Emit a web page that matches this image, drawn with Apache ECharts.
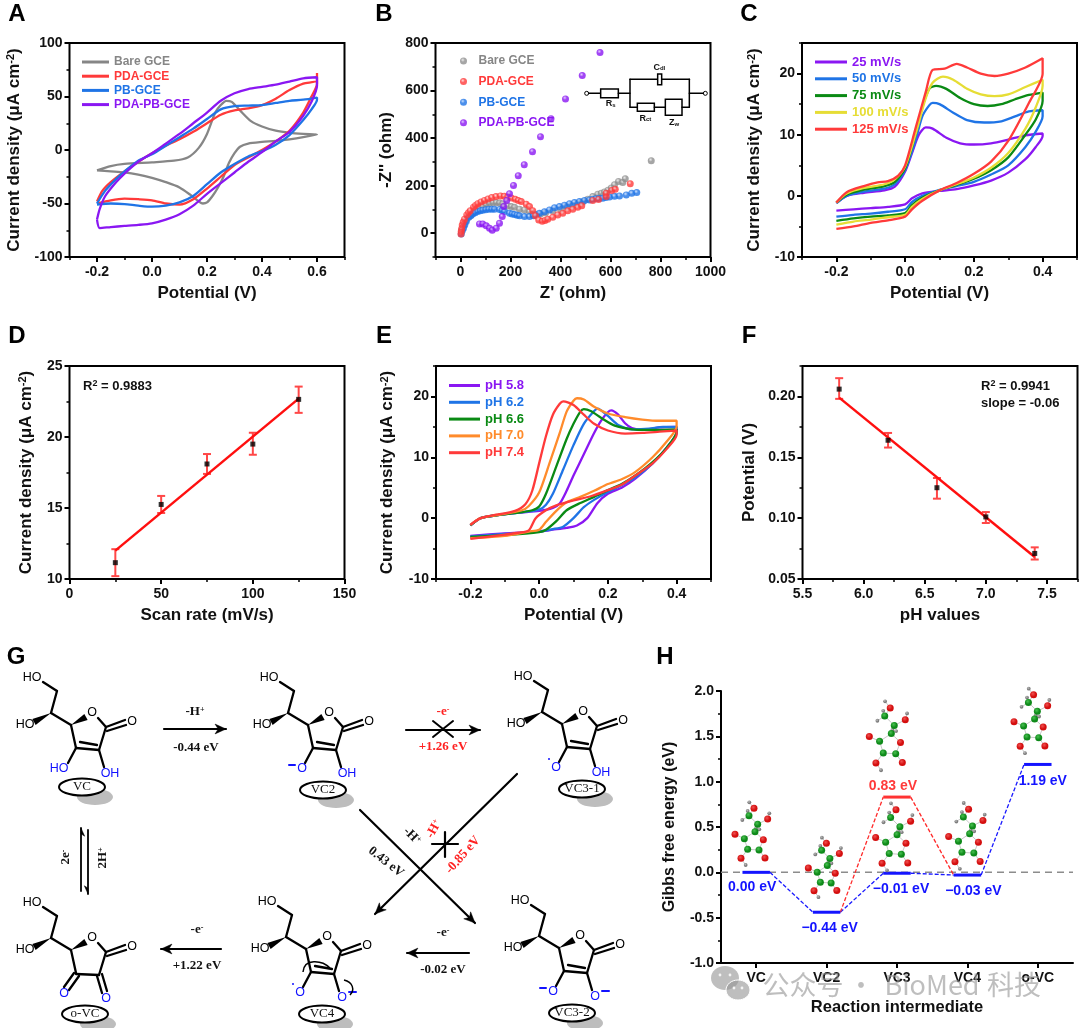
<!DOCTYPE html>
<html><head><meta charset="utf-8">
<style>html,body{margin:0;padding:0;background:#fff}#c{width:1080px;height:1028px}</style>
<script src="https://cdn.jsdelivr.net/npm/echarts@6/dist/echarts.min.js"></script>
</head><body><div id="c"></div>
<script>
// ---------- DATA ----------
const aNames=['Bare GCE','PDA-GCE','PB-GCE','PDA-PB-GCE'];
const aBare=[[-0.2,-19],[-0.15,-15],[-0.1,-13],[0,-11.5],[0.08,-10],[0.13,-7],[0.17,2],[0.2,15],[0.23,35],[0.25,42],[0.27,46],[0.29,45],[0.32,37],[0.36,27],[0.4,22],[0.45,18],[0.5,16],[0.55,15],[0.6,14.5],[0.6,14],[0.55,12],[0.5,10],[0.45,8.5],[0.4,7.5],[0.35,6],[0.32,3],[0.3,-3],[0.28,-12],[0.26,-25],[0.24,-35],[0.22,-43],[0.2,-49],[0.185,-50],[0.17,-48],[0.14,-42],[0.1,-35],[0.05,-30],[0,-26],[-0.05,-23],[-0.1,-21],[-0.15,-20],[-0.2,-19]];
const aPda=[[-0.2,-48],[-0.18,-38],[-0.15,-30],[-0.1,-20],[-0.05,-11],[0,-3],[0.05,4],[0.1,10],[0.15,17],[0.2,25],[0.25,33],[0.3,37],[0.35,39],[0.4,42],[0.45,48],[0.5,56],[0.55,62],[0.6,65],[0.6,72],[0.6,62],[0.58,50],[0.55,35],[0.5,18],[0.45,8],[0.4,0],[0.35,-7],[0.3,-14],[0.25,-25],[0.2,-36],[0.15,-46],[0.1,-51],[0.05,-50],[0,-47],[-0.05,-46],[-0.1,-45.5],[-0.15,-47],[-0.2,-50]];
const aPb=[[-0.2,-50],[-0.17,-38],[-0.13,-27],[-0.1,-20],[-0.05,-10],[0,-4],[0.05,4],[0.1,12],[0.15,20],[0.2,29],[0.25,38],[0.3,41],[0.35,41.5],[0.4,42],[0.45,44],[0.5,46],[0.55,47],[0.6,49],[0.6,47],[0.58,38],[0.55,28],[0.5,14],[0.45,5],[0.4,-1],[0.35,-6],[0.3,-13],[0.25,-21],[0.2,-32],[0.15,-43],[0.1,-49],[0.05,-52],[0,-53],[-0.05,-52],[-0.1,-50.5],[-0.15,-50],[-0.2,-51]];
const aPdaPb=[[-0.2,-65],[-0.19,-55],[-0.17,-43],[-0.13,-30],[-0.1,-22],[-0.05,-11],[0,-3],[0.05,6],[0.1,15],[0.15,25],[0.2,35],[0.25,46],[0.3,53],[0.35,57],[0.4,59],[0.45,61],[0.5,64],[0.55,67],[0.6,68],[0.6,60],[0.58,45],[0.55,32],[0.5,17],[0.45,8],[0.4,-2],[0.35,-11],[0.3,-21],[0.25,-31],[0.2,-41],[0.15,-52],[0.1,-60],[0.05,-65],[0,-68.5],[-0.05,-70],[-0.1,-71],[-0.15,-72],[-0.19,-73],[-0.2,-65]];

const bBare=[[5,15],[14,38],[23,56],[33,68],[43,77],[53,88],[63,98],[76,106],[89,112],[102,120],[116,126],[130,128],[143,129],[156,127],[169,124],[189,115],[203,112],[216,109],[236,101],[256,98],[276,91],[289,77],[300,78],[320,81],[340,85],[370,93],[400,100],[425,110],[450,118],[470,125],[490,132],[509,143],[529,154],[549,164],[563,168],[576,173],[590,181],[603,190],[616,204],[632,218],[649,213],[659,229],[763,305]];
const bPda=[[2,-3],[3,8],[5,20],[7,35],[11,47],[16,59],[25,77],[32,86],[39,94],[52,109],[60,117],[69,124],[82,131],[96,138],[110,144],[125,150],[142,154],[160,157],[175,155],[189,152],[204,148],[219,143],[231,138],[243,133],[263,122],[276,112],[289,95],[300,73],[313,56],[327,50],[338,54],[349,59],[369,67],[389,77],[409,84],[429,94],[449,101],[469,109],[485,116],[529,138],[552,142],[583,154],[583,168],[605,180],[619,185],[679,208]];
const bPb=[[3,-3],[7,10],[12,21],[17,35],[23,49],[33,67],[41,74],[49,81],[59,86],[69,91],[79,94],[89,97],[101,99],[113,101],[125,101],[136,101],[156,100],[166,96],[176,91],[196,84],[206,81],[216,79],[226,76],[236,73],[256,70],[276,70],[292,73],[304,78],[316,84],[336,90],[356,98],[376,107],[396,112],[416,118],[436,124],[456,129],[476,133],[496,138],[516,140],[529,143],[542,145],[555,146],[569,147],[582,150],[596,152],[616,155],[636,157],[663,161],[685,168],[705,171]];
const bPdaPb=[[76,39],[89,39],[103,31],[116,21],[127,13],[143,21],[156,42],[167,70],[173,112],[185,138],[196,166],[212,201],[231,242],[255,288],[288,343],[320,406],[362,481],[420,565],[487,663],[558,760]];

const cNames=['25 mV/s','50 mV/s','75 mV/s','100 mV/s','125 mV/s'];
const c25=[[-0.2,-1.2],[-0.17,0],[-0.12,0.5],[-0.06,0.9],[-0.03,1.5],[0,4],[0.02,7],[0.04,10],[0.06,11.2],[0.08,11],[0.12,9.5],[0.16,8.6],[0.2,8.4],[0.25,8.6],[0.3,9.2],[0.35,9.9],[0.4,10.2],[0.4,9.8],[0.38,8],[0.35,6],[0.3,3.8],[0.25,2.5],[0.2,1.7],[0.15,1.1],[0.1,0.8],[0.05,0.4],[0.02,-0.4],[0,-1.4],[-0.05,-1.8],[-0.1,-2],[-0.15,-2.2],[-0.2,-2.4]];
const c50=[[-0.2,-1.2],[-0.17,0],[-0.12,0.7],[-0.06,1.2],[-0.03,1.9],[0,4.2],[0.03,9],[0.05,13],[0.07,14.8],[0.08,15.2],[0.1,15],[0.14,13.6],[0.18,12.4],[0.23,12],[0.28,12.2],[0.32,13],[0.36,13.8],[0.4,14],[0.4,13],[0.38,10.5],[0.35,8],[0.3,5],[0.25,3.5],[0.2,2.3],[0.15,1.6],[0.1,1],[0.05,0],[0.02,-1],[0,-2.2],[-0.05,-2.6],[-0.1,-2.9],[-0.15,-3.1],[-0.2,-3.4]];
const c75=[[-0.2,-1.1],[-0.17,0.2],[-0.12,1],[-0.06,1.6],[-0.03,2.3],[0,4.5],[0.03,10],[0.05,14.5],[0.07,17.5],[0.09,18],[0.12,17.5],[0.16,16],[0.2,15],[0.24,14.7],[0.28,15],[0.32,15.8],[0.36,16.5],[0.4,16.9],[0.4,15.5],[0.38,12.5],[0.35,10],[0.3,6.3],[0.25,4.2],[0.2,2.8],[0.15,1.8],[0.1,0.9],[0.05,-0.3],[0.02,-1.5],[0,-2.8],[-0.05,-3.2],[-0.1,-3.4],[-0.15,-3.7],[-0.2,-4.1]];
const c100=[[-0.2,-1.1],[-0.17,0.4],[-0.12,1.3],[-0.06,1.9],[-0.03,2.7],[0,4.8],[0.03,10],[0.06,16],[0.08,18.5],[0.11,19.5],[0.14,19],[0.18,17.5],[0.22,16.6],[0.26,16.3],[0.3,16.6],[0.35,17.8],[0.4,19],[0.4,18],[0.38,14.5],[0.35,11],[0.3,7],[0.25,4.6],[0.2,3],[0.15,1.9],[0.1,0.9],[0.05,-0.5],[0.02,-1.8],[0,-3.1],[-0.05,-3.5],[-0.1,-3.9],[-0.15,-4.2],[-0.2,-4.7]];
const c125=[[-0.2,-1.1],[-0.17,0.6],[-0.12,1.6],[-0.08,2.2],[-0.05,2.4],[-0.02,3.3],[0,5],[0.03,11],[0.06,17],[0.08,20.6],[0.115,20.8],[0.15,21.6],[0.18,21],[0.22,20],[0.26,19.6],[0.3,20],[0.35,21],[0.4,22.5],[0.4,20],[0.36,15.2],[0.3,9],[0.25,5.6],[0.2,3.6],[0.15,2.1],[0.1,0.9],[0.05,-0.8],[0.02,-2.2],[0,-3.4],[-0.05,-4],[-0.1,-4.4],[-0.15,-5],[-0.2,-5.4]];

const dRates=[25,50,75,100,125];
const dMeans=[11.15,15.25,18.1,19.5,22.65];
const dLow=[10.2,14.65,17.4,18.75,21.7];
const dHigh=[12.1,15.85,18.8,20.3,23.55];
const dFit=[[25,12],[125,22.7]];

const eNames=['pH 5.8','pH 6.2','pH 6.6','pH 7.0','pH 7.4'];
const e58=[[-0.2,-1.2],[-0.17,0],[-0.12,0.5],[-0.06,0.9],[0,1.2],[0.04,1.7],[0.06,2.4],[0.08,4.5],[0.1,7],[0.13,10.5],[0.16,14],[0.18,16],[0.2,17.4],[0.21,17.7],[0.23,17],[0.25,15.6],[0.27,14.8],[0.3,14.5],[0.35,14.9],[0.4,15],[0.4,14],[0.37,11.5],[0.33,9],[0.28,6.5],[0.24,5],[0.2,4],[0.17,2.5],[0.14,0],[0.11,-1.2],[0.08,-1.6],[0.04,-1.9],[0,-2.2],[-0.1,-2.5],[-0.2,-2.9]];
const e62=[[-0.2,-1.2],[-0.17,0],[-0.12,0.5],[-0.06,0.9],[0,1.4],[0.02,2.2],[0.04,4],[0.07,8],[0.1,12],[0.13,15.5],[0.16,17.6],[0.17,18],[0.2,16.8],[0.23,15.3],[0.27,14.6],[0.32,14.7],[0.36,15],[0.4,15],[0.4,14.2],[0.37,11.5],[0.33,9],[0.28,6.7],[0.24,5.4],[0.2,4.3],[0.16,3],[0.13,1.8],[0.1,0],[0.07,-1.4],[0.04,-1.8],[0,-2.2],[-0.1,-2.6],[-0.2,-3]];
const e66=[[-0.2,-1.2],[-0.17,0],[-0.12,0.5],[-0.06,0.9],[-0.02,1.3],[0,1.9],[0.02,4],[0.05,8.5],[0.08,13],[0.1,15.5],[0.12,17.5],[0.13,17.9],[0.15,17.6],[0.18,16.5],[0.22,15.2],[0.27,14.6],[0.32,14.5],[0.4,14.6],[0.4,14.2],[0.37,11.5],[0.33,9.2],[0.28,7],[0.24,5.6],[0.2,4.6],[0.16,3.5],[0.12,2.5],[0.08,1.3],[0.05,-0.5],[0.02,-1.9],[0,-2.3],[-0.1,-2.8],[-0.2,-3.1]];
const e70=[[-0.2,-1.1],[-0.17,0],[-0.12,0.5],[-0.05,1.3],[-0.03,2],[0,4.2],[0.03,9],[0.06,14],[0.08,17.5],[0.1,19.3],[0.11,19.7],[0.13,19.5],[0.16,18.3],[0.2,17.2],[0.25,16.6],[0.3,16.2],[0.35,16],[0.4,16],[0.4,15],[0.37,12.5],[0.33,10],[0.28,7.6],[0.24,6.4],[0.2,5.6],[0.16,4.5],[0.12,3.5],[0.08,2.6],[0.05,1.2],[0.02,-0.6],[0,-1.9],[-0.03,-2.2],[-0.1,-2.9],[-0.2,-3.3]];
const e74=[[-0.2,-1.1],[-0.17,0],[-0.12,0.6],[-0.07,1.2],[-0.04,2.3],[-0.02,4.5],[0,9],[0.02,13.5],[0.04,17],[0.06,18.8],[0.07,19.2],[0.1,18.6],[0.13,17],[0.16,15.5],[0.2,14.4],[0.25,13.9],[0.3,14],[0.35,14.2],[0.4,14.4],[0.4,13.7],[0.37,11.3],[0.33,9],[0.28,7],[0.24,5.5],[0.2,4.6],[0.15,3.6],[0.1,2.9],[0.05,2.1],[0.02,1.3],[-0.01,0],[-0.03,-2],[-0.06,-2.4],[-0.1,-2.7],[-0.2,-3.4]];

const fPh=[5.8,6.2,6.6,7.0,7.4];
const fMeans=[0.206,0.164,0.125,0.101,0.071];
const fLow=[0.198,0.158,0.116,0.096,0.066];
const fHigh=[0.215,0.170,0.133,0.105,0.076];
const fFit=[[5.8,0.199],[7.4,0.068]];

const hCats=['VC','VC2','VC3','VC4','o-VC'];
const hBlue=[0,-0.44,-0.01,-0.03,1.19];
const hBlueText=['0.00 eV','\u22120.44 eV','\u22120.01 eV','\u22120.03 eV','1.19 eV'];
const hRed=0.83;
const hRedText='0.83 eV';

// tick sets
const t_A_x=[-0.2,0,0.2,0.4,0.6], t_A_xm=[-0.3,-0.1,0.1,0.3,0.5,0.7];
const t_A_y=[-100,-50,0,50,100], t_A_ym=[-75,-25,25,75];
const t_B_x=[0,200,400,600,800,1000], t_B_xm=[-100,100,300,500,700,900];
const t_B_y=[0,200,400,600,800], t_B_ym=[-100,100,300,500,700];
const t_C_x=[-0.2,0,0.2,0.4], t_C_xm=[-0.3,-0.1,0.1,0.3,0.5];
const t_C_y=[-10,0,10,20], t_C_ym=[-5,5,15,25];
const t_D_x=[0,50,100,150], t_D_xm=[25,75,125];
const t_D_y=[10,15,20,25], t_D_ym=[12.5,17.5,22.5];
const t_F_x=[5.5,6,6.5,7,7.5], t_F_xm=[5.75,6.25,6.75,7.25,7.75];
const t_F_y=[0.05,0.1,0.15,0.2], t_F_ym=[0.075,0.125,0.175,0.225];
const t_H_y=[-1,-0.5,0,0.5,1,1.5,2], t_H_ym=[-0.75,-0.25,0.25,0.75,1.25,1.75];

// ---------- STYLE ----------
const FONT='"Liberation Sans"', SERIF='"Liberation Serif"';
const GREY='#868686',RED='#ff3a3a',BLUE='#1f74e6',PUR='#8a17f2',GRN='#0a8a14',YEL='#e6dd35',ORG='#ff8b2b';
const grids=[],xAxes=[],yAxes=[],series=[],legends=[];
const curLabel='Current density (\u03bcA cm{s|-2})';
function axis(gi,c,isX){
  const main={type:'value',gridIndex:gi,min:c.min,max:c.max,position:isX?'bottom':'left',name:c.name,nameLocation:'middle',nameGap:c.gap,nameMoveOverlap:false,
    nameTextStyle:{fontFamily:FONT,fontWeight:'bold',fontSize:c.ns||17,color:'#111',rich:{s:{fontFamily:FONT,fontWeight:'bold',fontSize:11,color:'#111',verticalAlign:'top'}}},
    axisLine:{show:!!c.line,onZero:false,lineStyle:{color:'#000',width:2}},
    axisTick:{show:true,customValues:c.major,length:5,lineStyle:{color:'#000',width:2}},
    axisLabel:{customValues:c.major,margin:isX?8:7,color:'#111',fontFamily:FONT,fontWeight:'bold',fontSize:14,formatter:v=>(+v).toFixed(c.dec||0),hideOverlap:false},
    splitLine:{show:false}};
  const minor={type:'value',gridIndex:gi,min:c.min,max:c.max,position:isX?'bottom':'left',axisLine:{show:false,onZero:false},axisLabel:{show:false},
    axisTick:{show:true,customValues:c.minor,length:3,lineStyle:{color:'#000',width:1.5}},splitLine:{show:false}};
  return [main,minor];
}
function panel(rect,x,y){
  const gi=grids.length;
  grids.push({left:rect[0],top:rect[1],width:rect[2],height:rect[3],show:true,borderColor:'#000',borderWidth:2,backgroundColor:'transparent'});
  const xi=xAxes.length,yi=yAxes.length;
  xAxes.push(...axis(gi,x,true)); yAxes.push(...axis(gi,y,false));
  return {xi,yi};
}
function cv(p,name,data,color,w){
  series.push({type:'line',name,data,xAxisIndex:p.xi,yAxisIndex:p.yi,showSymbol:false,symbol:'none',smooth:0.25,color,lineStyle:{color,width:w||2.3},z:3,animation:false});
}
function ball(c,l){return {type:'radial',x:0.4,y:0.35,r:0.65,colorStops:[{offset:0,color:l},{offset:0.45,color:c},{offset:1,color:c}]};}
function strip(n){return n.split('|')[1];}
function lineLegend(panelKey,names,colors,left,top,gap,fs,w){
  legends.push({left,top,padding:0,orient:'vertical',itemWidth:w,itemHeight:3,itemGap:gap,icon:'rect',selectedMode:false,formatter:strip,
    textStyle:{fontFamily:FONT,fontWeight:'bold',fontSize:fs},
    data:names.map((n,i)=>({name:panelKey+'|'+n,textStyle:{color:colors[i],fontFamily:FONT,fontWeight:'bold',fontSize:fs}}))});
}
function errorBars(p,xs,lo,hi){
  series.push({type:'custom',xAxisIndex:p.xi,yAxisIndex:p.yi,z:3,animation:false,silent:true,clip:false,
    data:xs.map((x,i)=>[x,lo[i],hi[i]]),
    renderItem(params,api){
      const a=api.coord([api.value(0),api.value(1)]),b=api.coord([api.value(0),api.value(2)]);
      const st={stroke:'#ff4747',lineWidth:2,fill:null};
      return {type:'group',children:[
        {type:'line',shape:{x1:a[0],y1:a[1],x2:b[0],y2:b[1]},style:st},
        {type:'line',shape:{x1:a[0]-4,y1:a[1],x2:a[0]+4,y2:a[1]},style:st},
        {type:'line',shape:{x1:b[0]-4,y1:b[1],x2:b[0]+4,y2:b[1]},style:st}]};
    }});
}
function fitAndPoints(p,fit,xs,ys){
  series.push({type:'line',data:fit,xAxisIndex:p.xi,yAxisIndex:p.yi,showSymbol:false,symbol:'none',color:'#ff0f0f',lineStyle:{color:'#ff0f0f',width:2.5},z:4,animation:false});
  series.push({type:'scatter',data:xs.map((x,i)=>[x,ys[i]]),xAxisIndex:p.xi,yAxisIndex:p.yi,symbol:'rect',symbolSize:5,color:'#000',itemStyle:{color:'#000'},z:5,animation:false});
}

// ---------- PANELS ----------
const pA=panel([69.5,43,275,214],{min:-0.3,max:0.7,major:t_A_x,minor:t_A_xm,dec:1,name:'Potential (V)',gap:28},{min:-100,max:100,major:t_A_y,minor:t_A_ym,name:curLabel,gap:47});
const pB=panel([435.5,43,275,214],{min:-100,max:1000,major:t_B_x,minor:t_B_xm,name:"Z' (ohm)",gap:28},{min:-100,max:800,major:t_B_y,minor:t_B_ym,name:"-Z'' (ohm)",gap:41});
const pC=panel([802,43,275,214],{min:-0.3,max:0.5,major:t_C_x,minor:t_C_xm,dec:1,name:'Potential (V)',gap:28},{min:-10,max:25,major:t_C_y,minor:t_C_ym,name:curLabel,gap:39});
const pD=panel([69.5,366,275,213],{min:0,max:150,major:t_D_x,minor:t_D_xm,name:'Scan rate (mV/s)',gap:28},{min:10,max:25,major:t_D_y,minor:t_D_ym,name:curLabel,gap:35});
const pE=panel([436,366,275,213],{min:-0.3,max:0.5,major:t_C_x,minor:t_C_xm,dec:1,name:'Potential (V)',gap:28},{min:-10,max:25,major:t_C_y,minor:t_C_ym,name:curLabel,gap:40});
const pF=panel([802.5,366,275,213],{min:5.5,max:7.75,major:t_F_x,minor:t_F_xm,dec:1,name:'pH values',gap:28},{min:0.05,max:0.225,major:t_F_y,minor:t_F_ym,dec:2,name:'Potential (V)',gap:45});

// A
[[aBare,GREY],[aPda,RED],[aPb,BLUE],[aPdaPb,PUR]].forEach((s,i)=>cv(pA,'A|'+aNames[i],s[0],s[1]));
lineLegend('A',aNames,[GREY,RED,BLUE,PUR],82,56,2.2,12,27);
// B
[[bBare,'#8f8f8f','#e5e5e5',0],[bPb,'#1f74e6','#bcd8ff',2],[bPda,'#ff3a3a','#ffd0d0',1],[bPdaPb,'#8a17f2','#dcbcff',3]].forEach(s=>{
  series.push({type:'scatter',name:'B|'+aNames[s[3]],data:s[0],xAxisIndex:pB.xi,yAxisIndex:pB.yi,symbol:'circle',symbolSize:7,itemStyle:{color:ball(s[1],s[2])},z:3,animation:false});
});
legends.push({left:460,top:55,padding:0,orient:'vertical',itemWidth:20,itemHeight:7,itemGap:8.6,selectedMode:false,formatter:strip,
  textStyle:{fontFamily:FONT,fontWeight:'bold',fontSize:12},
  data:aNames.map((n,i)=>({name:'B|'+n,textStyle:{color:[GREY,RED,BLUE,PUR][i],fontFamily:FONT,fontWeight:'bold',fontSize:12}}))});
// C
[[c25,PUR],[c50,BLUE],[c75,GRN],[c100,YEL],[c125,RED]].forEach((s,i)=>cv(pC,'C|'+cNames[i],s[0],s[1]));
lineLegend('C',cNames,[PUR,BLUE,GRN,YEL,RED],815,55.5,3.8,13,32);
// D
errorBars(pD,dRates,dLow,dHigh);
fitAndPoints(pD,dFit,dRates,dMeans);
// E
[[e58,PUR],[e62,BLUE],[e66,GRN],[e70,ORG],[e74,RED]].forEach((s,i)=>cv(pE,'E|'+eNames[i],s[0],s[1]));
lineLegend('E',eNames,[PUR,BLUE,GRN,ORG,RED],449,379,3.8,13,31);
// F
errorBars(pF,fPh,fLow,fHigh);
fitAndPoints(pF,fFit,fPh,fMeans);

// H
const hGi=grids.length;
grids.push({left:721,top:691,width:352,height:272,show:false});
const hX=xAxes.length,hY=yAxes.length;
xAxes.push({type:'category',gridIndex:hGi,data:hCats,position:'bottom',name:'Reaction intermediate',nameLocation:'middle',nameGap:36,nameMoveOverlap:false,
  nameTextStyle:{fontFamily:FONT,fontWeight:'bold',fontSize:16.5,color:'#111'},
  axisLine:{show:true,onZero:false,lineStyle:{color:'#000',width:2}},axisTick:{show:true,alignWithLabel:true,length:5,lineStyle:{color:'#000',width:2}},
  axisLabel:{margin:8,color:'#111',fontFamily:FONT,fontWeight:'bold',fontSize:14,interval:0},splitLine:{show:false}});
xAxes.push({type:'value',gridIndex:hGi,min:0,max:5,show:false,position:'bottom',axisLine:{onZero:false}});
yAxes.push(...axis(hGi,{min:-1,max:2,major:t_H_y,minor:t_H_ym,dec:1,name:'Gibbs free energy (eV)',gap:43,ns:16,line:true},false));
const HW=0.195;
function seg(x1,y1,x2,y2,color,width,dash){return {x1,y1,x2,y2,color,width,dash};}
const hSegs=[seg(0,0,5,0,'#8c8c8c',1.5,[7,5])];
hBlue.forEach((v,i)=>{ if(i<hBlue.length-1) hSegs.push(seg(i+.5+HW,v,i+1.5-HW,hBlue[i+1],'#1a1aff',1.3,[4,2])); });
hSegs.push(seg(1.5+HW,hBlue[1],2.5-HW,hRed,'#ff2a2a',1.3,[4,2]));
hSegs.push(seg(2.5+HW,hRed,3.5-HW,hBlue[3],'#ff2a2a',1.3,[4,2]));
hBlue.forEach((v,i)=>hSegs.push(seg(i+.5-HW,v,i+.5+HW,v,'#1414ff',3)));
hSegs.push(seg(2.5-HW,hRed,2.5+HW,hRed,'#ff3333',3));
series.push({type:'custom',xAxisIndex:hX+1,yAxisIndex:hY,z:3,animation:false,silent:true,clip:false,
  data:hSegs.map((s,i)=>[s.x1,s.y1,s.x2,s.y2,i]),
  renderItem(params,api){
    const a=api.coord([api.value(0),api.value(1)]),b=api.coord([api.value(2),api.value(3)]),s=hSegs[api.value(4)];
    return {type:'line',shape:{x1:a[0],y1:a[1],x2:b[0],y2:b[1]},style:{stroke:s.color,lineWidth:s.width,lineDash:s.dash||null,fill:null}};
  }});
const hLabelOff=[[-4,15],[3,16],[4,16],[6,16],[5,17]];
const hLabels=hBlue.map((v,i)=>({x:i+.5,y:v,t:hBlueText[i],c:'#1414ff',o:hLabelOff[i]})).concat([{x:2.5,y:hRed,t:hRedText,c:'#ff3a3a',o:[-4,-11]}]);
series.push({type:'custom',xAxisIndex:hX+1,yAxisIndex:hY,z:6,animation:false,silent:true,clip:false,
  data:hLabels.map((l,i)=>[l.x,l.y,i]),
  renderItem(params,api){
    const p=api.coord([api.value(0),api.value(1)]),l=hLabels[api.value(2)];
    return {type:'text',x:p[0]+l.o[0],y:p[1]+l.o[1],style:{text:l.t,fill:l.c,font:'bold 14px '+FONT,textAlign:'center',textVerticalAlign:'middle'}};
  }});

// ---------- GRAPHIC (letters, annotations, scheme G, models, watermark) ----------
const g=[];
const L=(x1,y1,x2,y2,w,c)=>g.push({type:'line',z:8,silent:true,shape:{x1,y1,x2,y2},style:{stroke:c||'#000',lineWidth:w||2,lineCap:'round'}});
const T=(x,y,t,font,c,rot,extra)=>g.push({type:'text',z:9,silent:true,x,y,rotation:rot||0,style:Object.assign({text:t,font,fill:c||'#000',textAlign:'center',textVerticalAlign:'middle'},extra||{})});
// panel letters
[['A',17,14],['B',384,14],['C',749,14],['D',17,336],['E',384,336],['F',749,336],['G',16,657],['H',665,657]].forEach(a=>T(a[1],a[2],a[0],'bold 24px '+FONT,'#000'));
// statistic texts
const sup={s:{fontFamily:FONT,fontWeight:'bold',fontSize:9,fill:'#111',verticalAlign:'top'},n:{fontFamily:FONT,fontWeight:'bold',fontSize:13,fill:'#111'}};
const RT=(x,y,t)=>g.push({type:'text',z:9,silent:true,x,y,style:{text:t,textAlign:'left',textVerticalAlign:'middle',fontFamily:FONT,fontWeight:'bold',fontSize:13,fill:'#111',rich:sup}});
RT(83,386,'{n|R}{s|2}{n| = 0.9883}');
RT(981,386,'{n|R}{s|2}{n| = 0.9941}');
RT(981,403,'{n|slope = -0.06}');
// inset circuit B
(function(){
  const X=v=>360+v/3,Y=v=>v/3,W=1.5;
  const l=(a,b,c,d)=>L(X(a),Y(b),X(c),Y(d),W);
  const r=(a,b,c,d)=>g.push({type:'rect',z:8,silent:true,shape:{x:X(a),y:Y(b),width:(c-a)/3,height:(d-b)/3},style:{stroke:'#000',lineWidth:W,fill:'#fff'}});
  [[680,280],[1036,280]].forEach(p=>g.push({type:'circle',z:8,silent:true,shape:{cx:X(p[0]),cy:Y(p[1]),r:2},style:{stroke:'#000',lineWidth:1,fill:'#fff'}}));
  l(686,280,722,280);r(722,267,775,293);l(775,280,810,280);l(810,238,810,322);l(810,238,893,238);r(893,222,905,254);l(905,238,988,238);l(988,238,988,322);l(988,280,1030,280);
  l(810,322,832,322);r(832,310,883,334);l(883,322,916,322);r(916,298,966,346);l(966,322,988,322);
  const st={b:{fontFamily:FONT,fontWeight:'bold',fontSize:9,fill:'#111'},u:{fontFamily:FONT,fontWeight:'bold',fontSize:6,fill:'#111',verticalAlign:'bottom'}};
  [['{b|C}{u|dl}',898,202],['{b|R}{u|s}',752,312],['{b|R}{u|ct}',856,355],['{b|Z}{u|w}',942,368]].forEach(a=>g.push({type:'text',z:9,silent:true,x:X(a[1]),y:Y(a[2]),style:{text:a[0],textAlign:'center',textVerticalAlign:'middle',fontFamily:FONT,fontWeight:'bold',fontSize:9,rich:st}}));
})();
// ---- scheme G ----
const MB='#1212ff', HF='12.5px '+FONT, SF='bold 13px '+SERIF;
function wedge(x1,y1,x2,y2,dx,dy,hw){
  const a=x2-x1,b=y2-y1,n=Math.hypot(a,b),px=-b/n*hw,py=a/n*hw;
  g.push({type:'polygon',z:8,silent:true,shape:{points:[[x1+dx,y1+dy],[x2+dx+px,y2+dy+py],[x2+dx-px,y2+dy-py]]},style:{fill:'#000'}});
}
function mol(dx,dy,o){
  const B=(a,b,c,d)=>L(a+dx,b+dy,c+dx,d+dy,2.3);
  T(32+dx,678+dy,'HO',HF);T(25+dx,725+dy,'HO',HF);
  B(43,682,57,691);B(57,691,51,713);
  wedge(51,713,34,722,dx,dy,3.5);
  B(51,713,71,725);
  wedge(71,725,86,717,dx,dy,3.5);
  T(92+dx,713+dy,'O',HF);
  B(98,718,106,727);
  B(106,727,125,720);B(107,731,126,725);T(132+dx,722+dy,'O',HF);
  B(71,725,76,748);B(106,727,99,750);
  if(o.keto){
    B(76,749,99,750);
    B(74,748,64,762);B(79,751,69,765);
    B(97,751,102,768);B(102,749,107,766);
    T(64+dx,769+dy,'O',HF,MB);T(106+dx,774+dy,'O',HF,MB);
  }else{
    B(76,748,99,750);B(80,742,97,745);
    B(76,748,68,763);B(99,750,104,767);
    if(o.left==='OH')T(59+dx,769+dy,'HO',HF,MB);
    else{
      T(65+dx,769+dy,'O',HF,MB);
      if(o.left==='minus')L(52+dx,765+dy,58+dx,765+dy,2,MB);
      else g.push({type:'circle',z:9,silent:true,shape:{cx:58+dx,cy:760+dy,r:1},style:{fill:MB}});
    }
    if(o.right==='OH')T(110+dx,774+dy,'OH',HF,MB);
    else{T(107+dx,774+dy,'O',HF,MB);L(114+dx,768+dy,121+dx,768+dy,2,MB);}
  }
  const ex=o.ex||82, ey=o.ey||787;
  g.push({type:'ellipse',z:7,silent:true,shape:{cx:ex+13+dx,cy:ey+10+dy,rx:18,ry:8},style:{fill:'#bdbdbd'}});
  g.push({type:'ellipse',z:8,silent:true,shape:{cx:ex+dx,cy:ey+dy,rx:23,ry:8.5},style:{fill:'#fff',stroke:'#000',lineWidth:2}});
  T(ex+dx,ey+dy,o.name,'13px '+SERIF,'#111');
}
mol(0,0,{left:'OH',right:'OH',name:'VC'});
mol(237,0,{left:'minus',right:'OH',name:'VC2',ex:86,ey:790});
mol(491,-1,{left:'dot',right:'OH',name:'VC3-1',ex:91,ey:790});
mol(0,225,{keto:true,name:'o-VC',ex:85,ey:789});
mol(235,224,{left:'dot',right:'minus',name:'VC4',ex:87,ey:790});
mol(488,223,{left:'minus',right:'minus',name:'VC3-2',ex:84,ey:790});
function arrow(x1,y1,x2,y2,w,half){
  L(x1,y1,x2,y2,w||2.2);
  const a=Math.atan2(y2-y1,x2-x1),s=half?9:12,sp=0.42;
  const tip=[x2,y2],p1=[x2-s*Math.cos(a-sp),y2-s*Math.sin(a-sp)],p2=[x2-s*Math.cos(a+sp),y2-s*Math.sin(a+sp)],back=[x2-s*.65*Math.cos(a),y2-s*.65*Math.sin(a)];
  const pts=half===1?[tip,p1,back]:half===2?[tip,p2,back]:[tip,p1,back,p2];
  g.push({type:'polygon',z:8,silent:true,shape:{points:pts},style:{fill:'#000',stroke:'#000',lineWidth:.5}});
}
arrow(164,729,226,729);
arrow(406,730,480,730);
L(433,721,453,737,2);L(433,737,453,721,2);
arrow(517,774,375,914);
arrow(360,810,475,923);
L(432,844,458,844,2.2);L(445,832,445,857,2.2);
arrow(469,953,407,953);
arrow(221,949,161,949);
arrow(81,891,81,828,1.8,1);
arrow(88,830,88,894,1.8,1);
const rt=(x,y,txt,rot,c)=>g.push({type:'text',z:9,silent:true,x,y,rotation:rot,style:{text:txt,textAlign:'center',textVerticalAlign:'middle',fontFamily:SERIF,fontWeight:'bold',fontSize:13,fill:c||'#111',
  rich:{u:{fontFamily:SERIF,fontWeight:'bold',fontSize:8,fill:c||'#111',verticalAlign:'top'},n:{fontFamily:SERIF,fontWeight:'bold',fontSize:13,fill:c||'#111'}}}});
rt(195,712,'{n|-H}{u|+}',0);T(196,748,'-0.44 eV',SF,'#111');
rt(443,712,'{n|-e}{u|-}',0,'#ff2020');T(443,747,'+1.26 eV',SF,'#ff2020');
rt(412,836,'{n|-H}{u|+}',-Math.PI/4);rt(386,862,'{n|0.43 eV}',-0.66);
rt(434,829,'{n|-H}{u|+}',1.05,'#ff2020');rt(463,855,'{n|-0.85 eV}',0.85,'#ff2020');
rt(443,933,'{n|-e}{u|-}',0);T(443,970,'-0.02 eV',SF,'#111');
rt(197,930,'{n|-e}{u|-}',0);T(197,966,'+1.22 eV',SF,'#111');
rt(66,857,'{n|2e}{u|-}',Math.PI/2);rt(103,858,'{n|2H}{u|+}',Math.PI/2);
// curved arrows in VC4
[[303,972,304,958,322,960,330,968],[344,980,353,982,355,990,350,995]].forEach(b=>g.push({type:'bezierCurve',z:9,silent:true,shape:{x1:b[0],y1:b[1],cpx1:b[2],cpy1:b[3],cpx2:b[4],cpy2:b[5],x2:b[6],y2:b[7]},style:{stroke:'#000',lineWidth:1.5,fill:null}}));
// ---- ball-and-stick models in H ----
const mRed=[[342,505],[383,537],[285,583],[370,599],[303,655],[375,654]];
const mGreen=[[327,527],[353,553],[345,575],[313,596],[323,628],[357,630]];
const mGray=[[328,487],[323,513],[307,540],[388,520],[358,568],[348,565],[317,675]];
const mBonds=[['g',0,'g',1],['g',1,'g',2],['g',2,'g',3],['g',3,'g',4],['g',4,'g',5],['g',5,'r',3],['r',3,'g',2],['g',0,'r',0],['g',1,'r',1],['g',3,'r',2],['g',4,'r',4],['g',5,'r',5],['r',0,'y',0],['g',0,'y',1],['g',0,'y',2],['r',1,'y',3],['g',2,'y',4],['g',1,'y',5],['r',4,'y',6]];
function model(a,b,s){
  const mp=p=>[640+(a+s*(p[0]-285))/3,640+(b+s*(p[1]-487))/3];
  const get=(k,i)=>mp(k==='g'?mGreen[i]:k==='r'?mRed[i]:mGray[i]);
  mBonds.forEach(e=>{const p=get(e[0],e[1]),q=get(e[2],e[3]);g.push({type:'line',z:7,silent:true,shape:{x1:p[0],y1:p[1],x2:q[0],y2:q[1]},style:{stroke:'#c8c8c8',lineWidth:1}});});
  const dot=(p,r,c,l)=>{const m=mp(p);g.push({type:'circle',z:8,silent:true,shape:{cx:m[0],cy:m[1],r},style:{fill:{type:'radial',x:.4,y:.35,r:.7,colorStops:[{offset:0,color:l},{offset:.6,color:c},{offset:1,color:c}]}}});};
  mGray.forEach(p=>dot(p,1.9,'#7d7d7d','#bdbdbd'));
  mGreen.forEach(p=>dot(p,3.5,'#0f8a1a','#48c050'));
  mRed.forEach(p=>dot(p,3.5,'#d40f0f','#f05050'));
}
model(285,487,1);
model(505,593,0.95);
model(688,184,1.1);
model(707,490,1.07);
model(926,489,1.05);
model(1122,146,1.03);
// ---- watermark ----
const wm='rgba(150,150,150,0.62)';
g.push({type:'ellipse',z:10,silent:true,shape:{cx:725,cy:978,rx:14,ry:12},style:{fill:wm}});
g.push({type:'ellipse',z:10,silent:true,shape:{cx:738,cy:990,rx:12,ry:10},style:{fill:wm,stroke:'#fff',lineWidth:1}});
[[720,975],[730,975],[734,988],[742,988]].forEach(p=>g.push({type:'circle',z:11,silent:true,shape:{cx:p[0],cy:p[1],r:1.4},style:{fill:'#f4f4f4'}}));
[['公众号',803],['·',861],['BioMed',932],['科技',1014]].forEach(a=>g.push({type:'text',z:10,silent:true,x:a[1],y:985,style:{text:a[0],font:'27px "Noto Sans CJK SC"',fill:wm,textAlign:'center',textVerticalAlign:'middle'}}));

const chart=echarts.init(document.getElementById('c'),null,{width:1080,height:1028,renderer:'canvas'});
chart.setOption({animation:false,backgroundColor:'#fff',grid:grids,xAxis:xAxes,yAxis:yAxes,legend:legends,series,graphic:{elements:g},tooltip:{show:false}});
</script></body></html>
